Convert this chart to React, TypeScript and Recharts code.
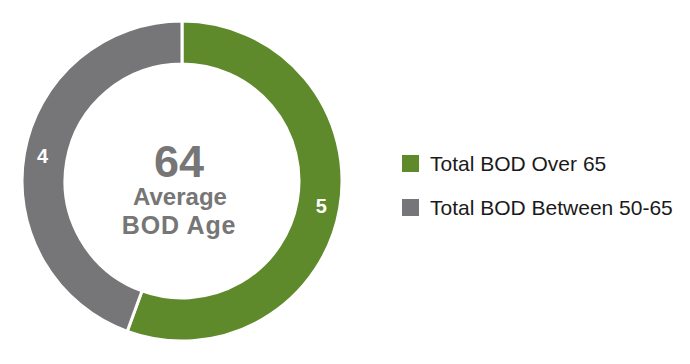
import React from 'react';
import { PieChart, Pie, Cell, Legend } from 'recharts';

const categories = ['Total BOD Over 65', 'Total BOD Between 50-65'];
const counts = [5, 4];
const colors = ['#5E8A2B', '#767678'];
const averageAge = 64;
const centerLines = ['Average', 'BOD Age'];

const data = categories.map((name, i) => ({ name, value: counts[i] }));

const FONT = '"Liberation Sans", Arial, Helvetica, sans-serif';
const RAD = Math.PI / 180;

const renderLabel = (props: any) => {
  const { cx, cy, midAngle, innerRadius, outerRadius, value } = props;
  const r = (innerRadius + outerRadius) / 2 + 3;
  const x = cx + r * Math.cos(-midAngle * RAD);
  const y = cy + r * Math.sin(-midAngle * RAD);
  return (
    <text x={x} y={y} fill="#ffffff" fontFamily={FONT} fontWeight="bold" fontSize={20} textAnchor="middle" dominantBaseline="central">
      {value}
    </text>
  );
};

const renderLegend = (props: any) => {
  const payload = [...(props.payload || [])].sort(
    (a: any, b: any) => categories.indexOf(a.value) - categories.indexOf(b.value)
  );
  return (
    <div style={{ fontFamily: FONT }}>
      {payload.map((entry: any, i: number) => (
        <div key={i} style={{ display: 'flex', alignItems: 'center', height: 17, marginBottom: i === 0 ? 27 : 0 }}>
          <div style={{ width: 17, height: 17, background: entry.color, marginRight: 11, flex: 'none' }} />
          <span style={{ fontSize: 21, color: '#1a1a1a', whiteSpace: 'nowrap', lineHeight: '17px' }}>{entry.value}</span>
        </div>
      ))}
    </div>
  );
};

export default function App() {
  return (
    <div style={{ position: 'absolute', left: 0, top: 0, width: 690, height: 364, background: '#fff' }}>
      <PieChart width={690} height={364} margin={{ top: 0, right: 0, bottom: 0, left: 0 }}>
        <Pie
          data={data}
          dataKey="value"
          nameKey="name"
          cx={182}
          cy={181}
          innerRadius={117}
          outerRadius={160}
          startAngle={90}
          endAngle={-270}
          stroke="#ffffff"
          strokeWidth={3}
          label={renderLabel}
          labelLine={false}
          isAnimationActive={false}
        >
          {data.map((d, i) => (
            <Cell key={d.name} fill={colors[i]} />
          ))}
        </Pie>
        <text x={179} y={177} textAnchor="middle" fill="#767676" fontFamily={FONT} fontWeight="bold" fontSize={45}>
          {averageAge}
        </text>
        <text x={180} y={205} textAnchor="middle" fill="#767676" fontFamily={FONT} fontWeight="bold" fontSize={24}>
          {centerLines[0]}
        </text>
        <text x={179} y={234} textAnchor="middle" fill="#767676" fontFamily={FONT} fontWeight="bold" fontSize={25} letterSpacing={0.8}>
          {centerLines[1]}
        </text>
        <Legend
          layout="vertical"
          content={renderLegend}
          wrapperStyle={{ position: 'absolute', left: 402, top: 155, width: 288 }}
        />
      </PieChart>
    </div>
  );
}
